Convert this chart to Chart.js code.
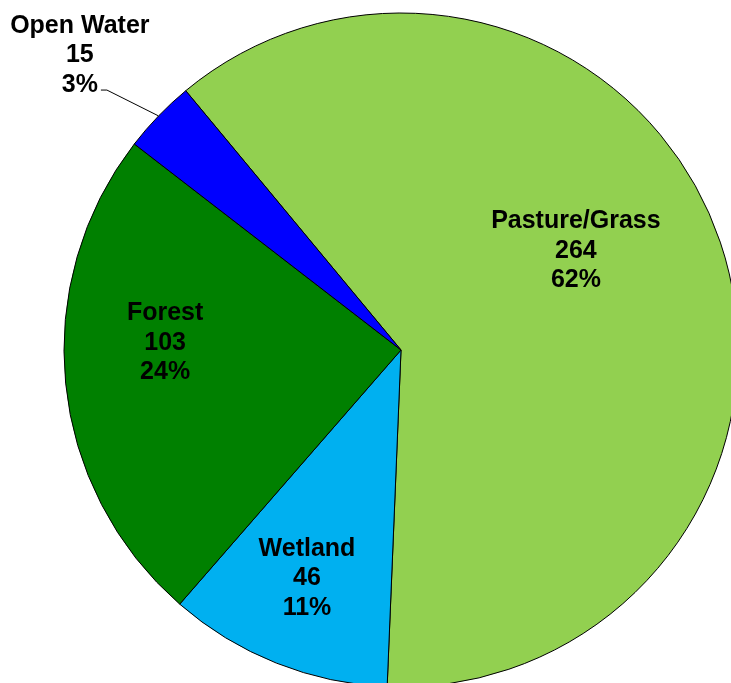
<!DOCTYPE html>
<html>
<head>
<meta charset="utf-8">
<script src="https://cdn.jsdelivr.net/npm/chart.js@4"></script>
<style>
  html, body { margin: 0; padding: 0; background: #ffffff; overflow: hidden; width: 731px; height: 683px; }
  #c { position: absolute; left: 0; top: 0; }
</style>
</head>
<body>
<canvas id="c" width="802" height="700"></canvas>
<script>
// ---- data ----
const categories = ["Pasture/Grass", "Wetland", "Forest", "Open Water"];
const values = [264, 46, 103, 15];
const percentLabels = ["62%", "11%", "24%", "3%"];

// ---- styling / label placement (separate from data) ----
const sliceColors = ["#92D050", "#00B0F0", "#008000", "#0000FF"];
// label block centre (middle line), as fraction of the outer radius from the pie centre
const labelOffsets = [[0.519, -0.30], [-0.279, 0.671], [-0.700, -0.027], [-0.953, -0.881]];
const leaderLine = [false, false, false, true];

const FONT_SIZE = 25;
const LINE_GAP = 29.5;

const labelPlugin = {
  id: 'sliceLabels',
  afterDatasetsDraw(chart) {
    const ctx = chart.ctx;
    const meta = chart.getDatasetMeta(0);
    ctx.save();
    ctx.font = 'bold ' + FONT_SIZE + 'px "Liberation Sans", Arial, sans-serif';
    ctx.fillStyle = '#000000';
    ctx.textAlign = 'center';
    ctx.textBaseline = 'alphabetic';
    meta.data.forEach((arc, i) => {
      const r = arc.outerRadius;
      const cx = arc.x + labelOffsets[i][0] * r;
      const cy = arc.y + labelOffsets[i][1] * r;
      const lines = [categories[i], String(values[i]), percentLabels[i]];
      const capShift = FONT_SIZE * 0.358;
      lines.forEach((t, k) => {
        ctx.fillText(t, cx, cy + (k - 1) * LINE_GAP + capShift);
      });
      if (leaderLine[i]) {
        const lastW = ctx.measureText(lines[2]).width;
        const sx = cx + lastW / 2 + 3;
        const sy = cy + LINE_GAP + capShift - 1.5;
        const mid = (arc.startAngle + arc.endAngle) / 2;
        const ex = arc.x + Math.cos(mid) * r;
        const ey = arc.y + Math.sin(mid) * r;
        ctx.beginPath();
        ctx.strokeStyle = '#000000';
        ctx.lineWidth = 1;
        ctx.moveTo(sx, sy);
        ctx.lineTo(sx + 6, sy);
        ctx.lineTo(ex, ey);
        ctx.stroke();
      }
    });
    ctx.restore();
  }
};

new Chart(document.getElementById('c'), {
  type: 'pie',
  data: {
    labels: categories,
    datasets: [{
      data: values,
      backgroundColor: sliceColors,
      borderColor: '#000000',
      borderWidth: 1,
      radius: 337
    }]
  },
  options: {
    responsive: false,
    animation: false,
    rotation: -39.7,
    layout: { padding: 0 },
    plugins: {
      legend: { display: false },
      tooltip: { enabled: false },
      title: { display: false }
    }
  },
  plugins: [labelPlugin]
});
</script>
</body>
</html>
